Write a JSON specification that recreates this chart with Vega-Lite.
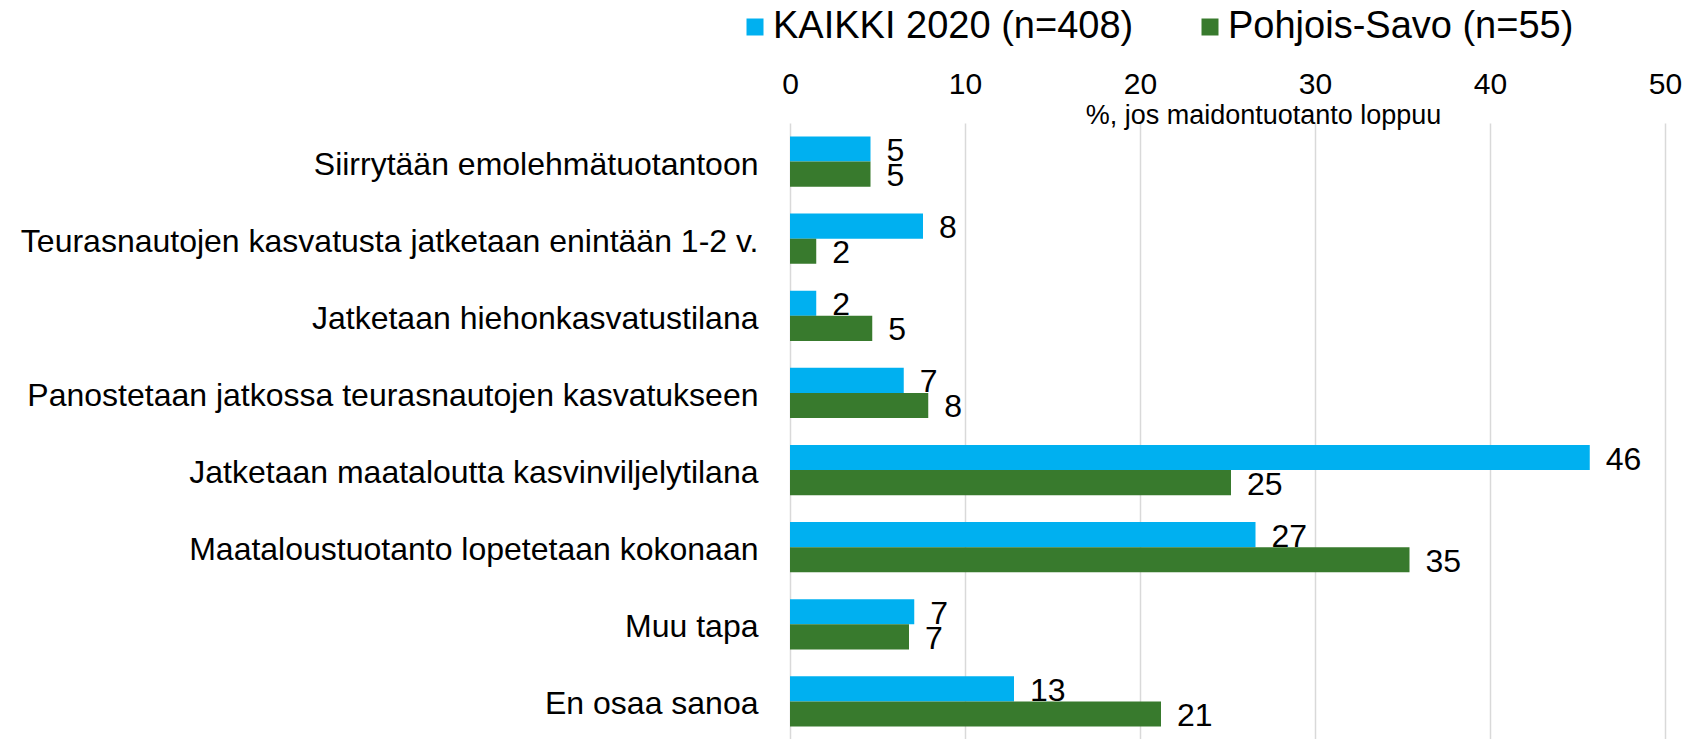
{
  "$schema": "https://vega.github.io/schema/vega-lite/v6.json",
  "width": 875,
  "height": 617,
  "autosize": {"type": "none"},
  "padding": {"left": 790, "top": 123, "right": 36, "bottom": 0},
  "background": "white",
  "config": {"font": "Liberation Sans", "view": {"stroke": null}},
  "data": {
    "values": [
      {"category": "Siirrytään emolehmätuotantoon", "series": "KAIKKI 2020 (n=408)", "value": 4.6},
      {"category": "Siirrytään emolehmätuotantoon", "series": "Pohjois-Savo (n=55)", "value": 4.6},
      {"category": "Teurasnautojen kasvatusta jatketaan enintään 1-2 v.", "series": "KAIKKI 2020 (n=408)", "value": 7.6},
      {"category": "Teurasnautojen kasvatusta jatketaan enintään 1-2 v.", "series": "Pohjois-Savo (n=55)", "value": 1.5},
      {"category": "Jatketaan hiehonkasvatustilana", "series": "KAIKKI 2020 (n=408)", "value": 1.5},
      {"category": "Jatketaan hiehonkasvatustilana", "series": "Pohjois-Savo (n=55)", "value": 4.7},
      {"category": "Panostetaan jatkossa teurasnautojen kasvatukseen", "series": "KAIKKI 2020 (n=408)", "value": 6.5},
      {"category": "Panostetaan jatkossa teurasnautojen kasvatukseen", "series": "Pohjois-Savo (n=55)", "value": 7.9},
      {"category": "Jatketaan maataloutta kasvinviljelytilana", "series": "KAIKKI 2020 (n=408)", "value": 45.7},
      {"category": "Jatketaan maataloutta kasvinviljelytilana", "series": "Pohjois-Savo (n=55)", "value": 25.2},
      {"category": "Maataloustuotanto lopetetaan kokonaan", "series": "KAIKKI 2020 (n=408)", "value": 26.6},
      {"category": "Maataloustuotanto lopetetaan kokonaan", "series": "Pohjois-Savo (n=55)", "value": 35.4},
      {"category": "Muu tapa", "series": "KAIKKI 2020 (n=408)", "value": 7.1},
      {"category": "Muu tapa", "series": "Pohjois-Savo (n=55)", "value": 6.8},
      {"category": "En osaa sanoa", "series": "KAIKKI 2020 (n=408)", "value": 12.8},
      {"category": "En osaa sanoa", "series": "Pohjois-Savo (n=55)", "value": 21.2}
    ]
  },
  "encoding": {
    "y": {
      "field": "category",
      "type": "nominal",
      "sort": null,
      "scale": {"paddingInner": 0.35, "paddingOuter": 0.175},
      "axis": {
        "title": null,
        "domain": false,
        "ticks": false,
        "labelFontSize": 32,
        "labelColor": "#000000",
        "labelPadding": 32,
        "labelOffset": 3,
        "labelLimit": 900
      }
    },
    "yOffset": {
      "field": "series",
      "type": "nominal",
      "sort": ["KAIKKI 2020 (n=408)", "Pohjois-Savo (n=55)"]
    },
    "x": {
      "field": "value",
      "type": "quantitative",
      "scale": {"domain": [0, 50], "nice": false},
      "axis": {
        "orient": "top",
        "values": [0, 10, 20, 30, 40, 50],
        "title": "%, jos maidontuotanto loppuu",
        "titleFontSize": 27,
        "titleFontWeight": "normal",
        "titleColor": "#000000",
        "titleX": 473,
        "titleY": 6,
        "titleAlign": "center",
        "titleBaseline": "bottom",
        "domain": false,
        "ticks": false,
        "grid": true,
        "gridColor": "#D9D9D9",
        "gridWidth": 1.5,
        "labelFontSize": 30,
        "labelColor": "#000000",
        "labelPadding": 24,
        "labelFlush": false
      }
    }
  },
  "layer": [
    {
      "mark": {"type": "bar"},
      "encoding": {
        "color": {
          "field": "series",
          "type": "nominal",
          "scale": {
            "domain": ["KAIKKI 2020 (n=408)", "Pohjois-Savo (n=55)"],
            "range": ["#00B0F0", "#387A2D"]
          },
          "legend": {
            "orient": "none",
            "legendX": -54,
            "legendY": -115,
            "direction": "horizontal",
            "title": null,
            "symbolType": "square",
            "symbolSize": 289,
            "symbolStrokeWidth": 0,
            "labelFontSize": 38,
            "labelColor": "#000000",
            "labelOffset": -1,
            "columnPadding": 57,
            "labelLimit": 600
          }
        }
      }
    },
    {
      "mark": {"type": "text", "align": "left", "baseline": "middle", "dx": 16, "dy": 2, "fontSize": 32, "color": "#000000"},
      "encoding": {"text": {"field": "value", "type": "quantitative", "format": ".0f"}}
    }
  ]
}
